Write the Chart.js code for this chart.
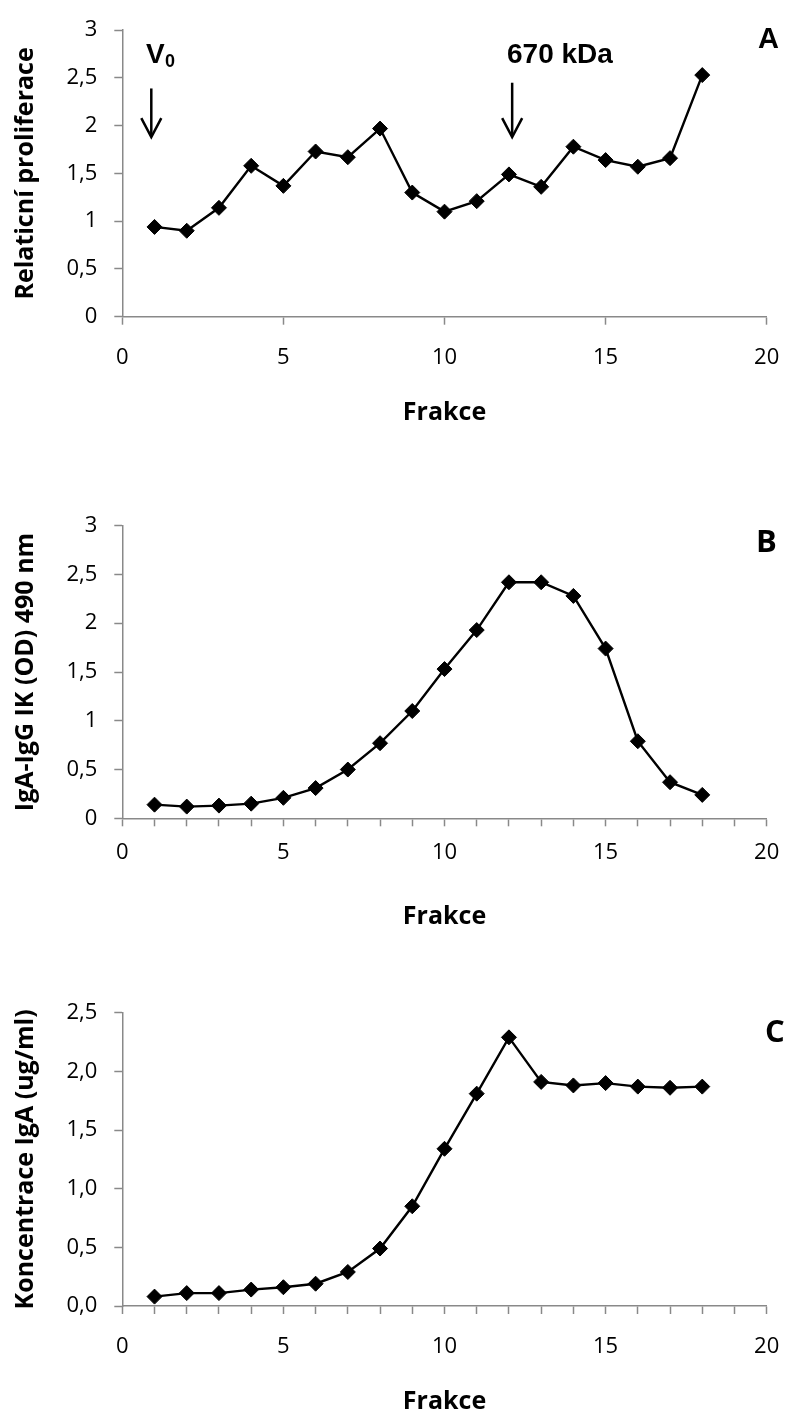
<!DOCTYPE html>
<html><head><meta charset="utf-8">
<script src="https://cdn.jsdelivr.net/npm/chart.js@4.4.1/dist/chart.umd.min.js"></script>
<style>
html,body{margin:0;padding:0;background:#fff;}
body{width:787px;height:1414px;position:relative;overflow:hidden;}
canvas{position:absolute;left:0;}
</style></head><body>
<canvas id="cA" width="787" height="430" style="top:0px"></canvas>
<canvas id="cB" width="787" height="500" style="top:430px"></canvas>
<canvas id="cC" width="787" height="484" style="top:930px"></canvas>
<script>
// ---- data ----
const fractions = [1,2,3,4,5,6,7,8,9,10,11,12,13,14,15,16,17,18];
const proliferation = [0.94,0.90,1.14,1.58,1.37,1.73,1.67,1.97,1.30,1.10,1.21,1.49,1.36,1.78,1.64,1.57,1.66,2.53];
const igaIgg = [0.14,0.12,0.13,0.15,0.21,0.31,0.50,0.77,1.10,1.53,1.93,2.42,2.42,2.28,1.74,0.79,0.37,0.24];
const igaConc = [0.08,0.11,0.11,0.14,0.16,0.19,0.29,0.49,0.85,1.34,1.81,2.29,1.91,1.88,1.90,1.87,1.86,1.87];
const xTickLabels = ['0','5','10','15','20'];
const yTicksA = ['0','0,5','1','1,5','2','2,5','3'];
const yTicksB = ['0','0,5','1','1,5','2','2,5','3'];
const yTicksC = ['0,0','0,5','1,0','1,5','2,0','2,5'];
const xTitle = 'Frakce';
const yTitleA = 'Relaticní proliferace';
const yTitleB = 'IgA-IgG IK (OD) 490 nm';
const yTitleC = 'Koncentrace IgA (ug/ml)';

const AXIS = '#898989';
const TICKFONT = {family:'"Open Sans", sans-serif', size:22, lineHeight:1.2};
const XTITLEFONT = {family:'"Open Sans", sans-serif', size:25, weight:'bold', lineHeight:1.0};
const YTITLEFONT = {family:'"Open Sans", sans-serif', size:25, weight:'bold', lineHeight:1.0};

const annot = {
  id:'annot',
  afterDraw(chart, args, opts){
    const ctx = chart.ctx;
    ctx.save();
    ctx.fillStyle = '#000';
    ctx.strokeStyle = '#000';
    (opts.texts||[]).forEach(t=>{
      ctx.font = t.font;
      ctx.textAlign = 'left';
      ctx.textBaseline = 'alphabetic';
      ctx.fillText(t.text, t.x, t.y);
    });
    const xs = chart.scales.x, ys = chart.scales.y;
    (opts.arrows||[]).forEach(a=>{
      const px = xs.getPixelForValue(a.x);
      const y1 = ys.getPixelForValue(a.from), y2 = ys.getPixelForValue(a.to);
      ctx.lineWidth = 2.5;
      ctx.beginPath();
      ctx.moveTo(px, y1); ctx.lineTo(px, y2 - 1);
      ctx.stroke();
      ctx.beginPath();
      ctx.moveTo(px - 10, y2 - 19); ctx.lineTo(px, y2); ctx.lineTo(px + 10, y2 - 19);
      ctx.stroke();
    });
    ctx.restore();
  }
};

function makeChart(id, values, yTicks, yMax, yTitle, cfg){
  return new Chart(document.getElementById(id), {
    type:'line',
    data:{datasets:[{
      data: fractions.map((f,i)=>({x:f, y:values[i]})),
      borderColor:'#000', borderWidth:2.4, tension:0,
      pointStyle:'rectRot', pointRadius:7.5, pointHoverRadius:7.5,
      pointBackgroundColor:'#000', pointBorderColor:'#000', pointBorderWidth:1
    }]},
    options:{
      responsive:false, animation:false, events:[],
      layout:{padding:{left:0, right:20.3, top:cfg.top, bottom:0}},
      plugins:{legend:{display:false}, tooltip:{enabled:false}, annot:cfg.annot},
      scales:{
        x:{type:'linear', min:0, max:20,
          afterFit(s){ s.height = cfg.xh; s.paddingRight = 0; s.paddingLeft = 0; },
          ticks:{stepSize:cfg.xStep, autoSkip:false, maxRotation:0, color:'#000', font:TICKFONT, padding:cfg.xpad,
            callback:(v)=> (v % 5 === 0 ? xTickLabels[v/5] : '')},
          grid:{display:true, drawOnChartArea:false, drawTicks:true, tickLength:8, tickColor:AXIS, tickWidth:1.5},
          border:{display:true, color:AXIS, width:1.5},
          title:{display:true, text:xTitle, color:'#000', font:XTITLEFONT, padding:{top:0,bottom:cfg.tpad}}
        },
        y:{min:0, max:yMax,
          afterFit(s){ s.width = 122.3; },
          ticks:{stepSize:0.5, color:'#000', font:TICKFONT, padding:17,
            callback:(v,i)=> yTicks[i]},
          grid:{display:true, drawOnChartArea:false, drawTicks:true, tickLength:8, tickColor:AXIS, tickWidth:1.5},
          border:{display:true, color:AXIS, width:1.5},
          title:{display:true, text:yTitle, color:'#000', font:YTITLEFONT, padding:{top:13,bottom:0}}
        }
      }
    },
    plugins:[annot]
  });
}

makeChart('cA', proliferation, yTicksA, 3, yTitleA, {
  top:24, xh:430-316.7, xpad:20, tpad:5, xStep:5,
  annot:{
    texts:[
      {text:'V', x:146, y:63, font:'bold 28px "Liberation Sans", Arial, sans-serif'},
      {text:'0', x:165, y:67, font:'bold 18px "Liberation Sans", Arial, sans-serif'},
      {text:'670 kDa', x:507, y:63, font:'bold 28px "Liberation Sans", Arial, sans-serif'},
      {text:'A', x:758, y:48, font:'bold 29px "Liberation Sans", Arial, sans-serif'}
    ],
    arrows:[{x:0.9, from:2.39, to:1.88},{x:12.1, from:2.45, to:1.88}]
  }
});
makeChart('cB', igaIgg, yTicksB, 3, yTitleB, {
  top:525.7-430, xh:500-(818.3-430), xpad:13, tpad:1, xStep:1,
  annot:{texts:[{text:'B', x:756, y:552-430, font:'bold 31px "Open Sans", sans-serif'}]}
});
makeChart('cC', igaConc, yTicksC, 2.5, yTitleC, {
  top:1012.7-930, xh:484-(1306-930), xpad:20, tpad:0, xStep:1,
  annot:{texts:[{text:'C', x:765, y:1042-930, font:'bold 31px "Open Sans", sans-serif'}]}
});
</script>
</body></html>
